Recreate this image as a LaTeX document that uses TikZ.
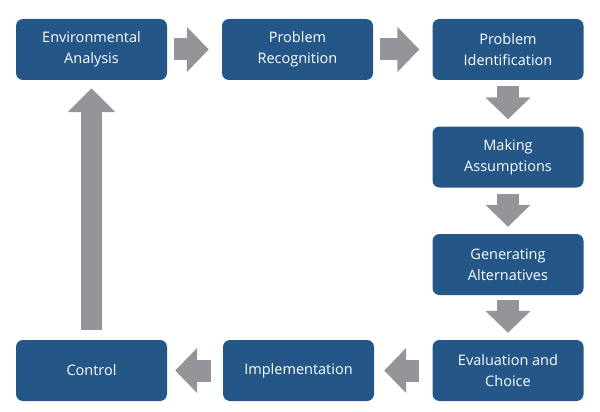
\documentclass[tikz,border=0pt]{standalone}
\usepackage{fontspec}
\setmainfont{Open Sans}
\usetikzlibrary{arrows.meta}
\definecolor{boxblue}{HTML}{245788}
\definecolor{arrowgray}{HTML}{939598}
\begin{document}
\begin{tikzpicture}[x=1pt,y=-1pt,
  stepbox/.style={fill=boxblue, rounded corners=7pt, minimum width=151pt, minimum height=61pt,
    text=white, align=center, font=\fontsize{14.5}{21}\selectfont, inner sep=0pt},
  garrow/.style={draw=arrowgray, line width=22pt, line cap=butt,
    -{Triangle[width=44pt,length=22pt,fill=arrowgray,color=arrowgray]}}]
\useasboundingbox (0,0) rectangle (600,412);
\node[stepbox] (env) at (91.5,49.5) {Environmental\\Analysis};
\node[stepbox] (rec) at (297.5,49.5) {Problem\\Recognition};
\node[stepbox] (ide) at (508,49.5) {Problem\\Identification};
\node[stepbox] (ass) at (508,157) {Making\\Assumptions};
\node[stepbox] (gen) at (508,264.5) {Generating\\Alternatives};
\node[stepbox] (eva) at (508,370.5) {Evaluation and\\Choice};
\node[stepbox] (imp) at (298.5,370.5) {Implementation};
\node[stepbox] (con) at (91.5,370.5) {Control};
\draw[garrow] ([xshift=7pt]env.east) -- ([xshift=-13pt]rec.west);
\draw[garrow] ([xshift=7pt]rec.east) -- ([xshift=-13pt]ide.west);
\draw[garrow] ([yshift=-6pt]ide.south) -- ([yshift=7pt]ass.north);
\draw[garrow] ([yshift=-6pt]ass.south) -- ([yshift=7pt]gen.north);
\draw[garrow] ([yshift=-5pt]gen.south) -- ([yshift=7pt]eva.north);
\draw[garrow] ([xshift=-13pt]eva.west) -- ([xshift=10pt]imp.east);
\draw[garrow] ([xshift=-12pt]imp.west) -- ([xshift=8pt]con.east);
\draw[garrow, line width=21pt, -{Triangle[width=46pt,length=24pt,fill=arrowgray,color=arrowgray]}] ([yshift=10pt]con.north) -- ([yshift=-8pt]env.south);
\end{tikzpicture}
\end{document}
